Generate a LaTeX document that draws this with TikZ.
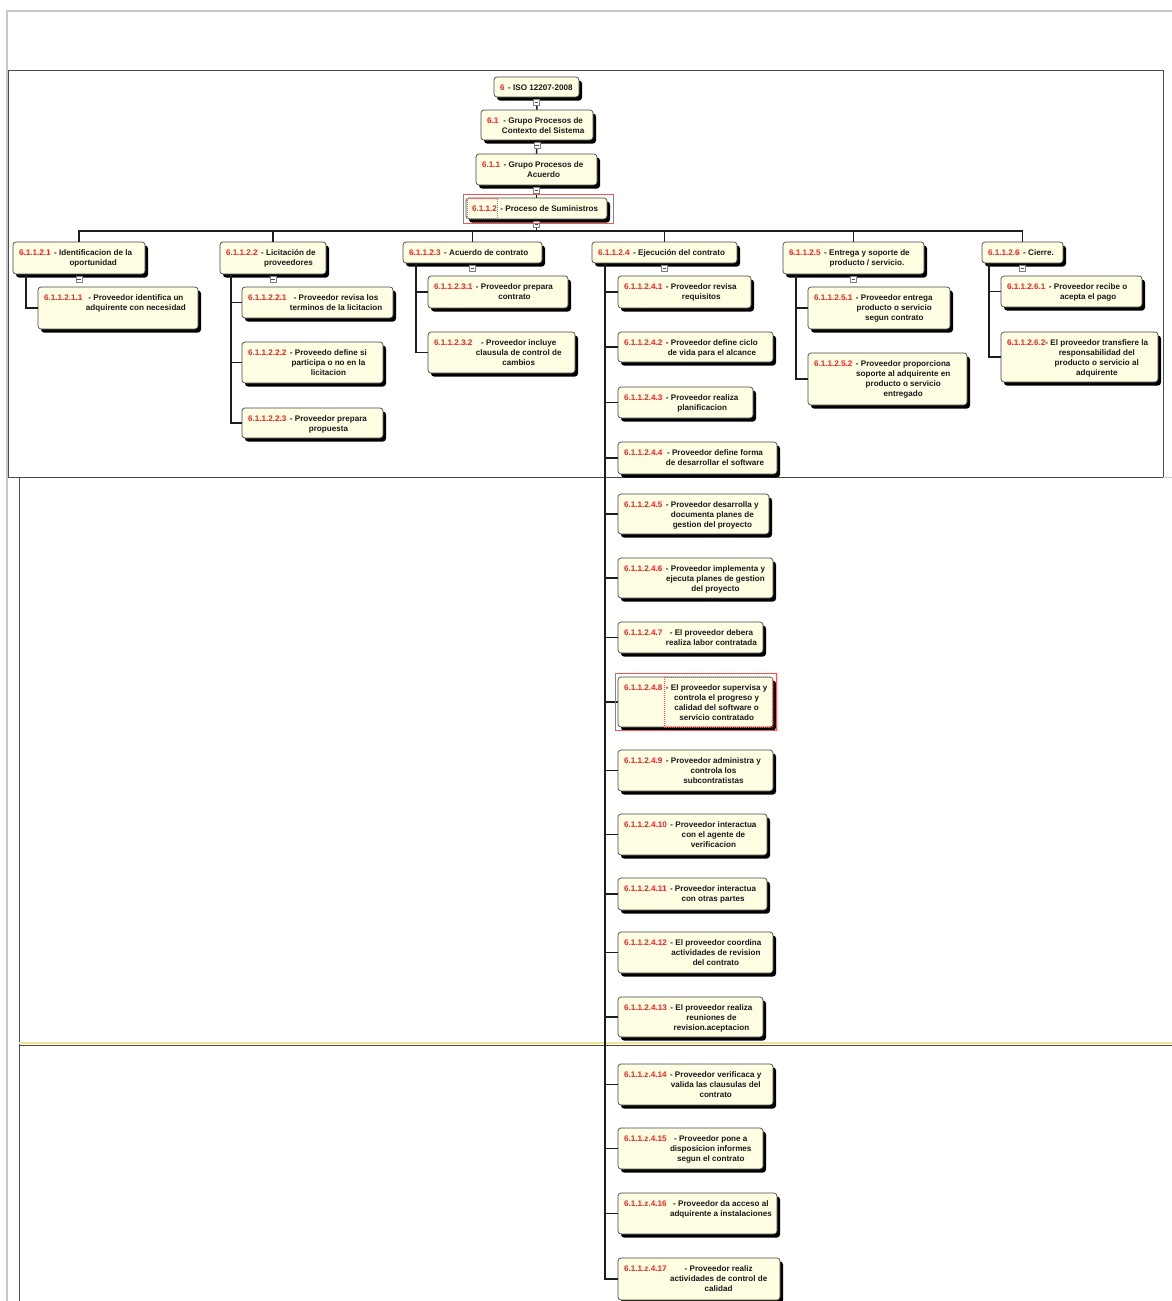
\documentclass[tikz,border=0pt]{standalone}
\usepackage{fontspec}
\setmainfont{Liberation Sans}
\usetikzlibrary{shadows}

\definecolor{boxfill}{RGB}{255,253,226}
\definecolor{boxline}{RGB}{70,70,70}
\definecolor{numred}{RGB}{255,30,30}
\definecolor{txt}{RGB}{25,25,25}
\definecolor{linkcol}{RGB}{30,30,30}
\definecolor{pagegray}{RGB}{200,200,200}
\definecolor{pageline}{RGB}{75,75,75}
\definecolor{selred}{RGB}{255,80,80}
\definecolor{breakpale}{RGB}{240,226,160}
\definecolor{breakdark}{RGB}{90,76,30}

\tikzset{
  wbsbox/.style={draw=boxline, line width=0.7pt, fill=boxfill, rounded corners=3pt,
    inner sep=0pt, outer sep=0pt, anchor=north west,
    drop shadow={shadow xshift=3pt, shadow yshift=-3.5pt, fill=black, opacity=1}},
  wbstext/.style={inner sep=0pt, anchor=north west,
    font=\fontsize{8.1}{10}\selectfont\bfseries, text=txt},
  toggle/.style={draw=gray, fill=white, line width=0.5pt, minimum size=6pt, inner sep=0pt,
    path picture={\draw[line width=0.6pt, black!70]
      ([xshift=1.3pt]path picture bounding box.west) --
      ([xshift=-1.3pt]path picture bounding box.east);}},
  link/.style={draw=linkcol, line width=1.4pt},
  selbox/.style={draw=selred, line width=0.7pt},
  seldash/.style={draw=selred, line width=0.5pt, dash pattern=on 1pt off 1pt},
}

% box: name, x1, y1, x2, y2, number, description lines
\newcommand\wbs[7]{%
  \node[wbsbox, minimum width={(#4-#2)*1pt}, minimum height={(#5-#3)*1pt}] (#1) at (#2,#3) {};
  \node[wbstext] (#1-t) at ([xshift=6pt,yshift=-6pt]#1.north west)
    {\textcolor{numred}{#6}\hspace{3.5pt}\begin{tabular}[t]{@{}c@{}}#7\end{tabular}};
}

\begin{document}
\begin{tikzpicture}[x=1pt,y=-1pt]
\useasboundingbox (0,0) rectangle (1172,1301);

% page outlines of the printed sheets
\draw[pagegray, line width=2pt] (7,1301) -- (7,11) -- (1172,11);
\draw[pageline, line width=1pt] (8,70) rectangle (1163,477);
\draw[pagegray, line width=1pt] (1163,477) -- (1172,477);
\draw[pageline, line width=1pt] (19,477) -- (19,1301);
\draw[breakpale, line width=2pt] (19,1043) -- (1172,1043);
\draw[breakdark, line width=1.3pt] (19,1045.3) -- (1172,1045.3);

% top chain
\wbs{b0}{494}{77}{579}{97}{6}{- ISO 12207-2008}
\wbs{b1}{481}{110}{593}{140}{6.1}{- Grupo Procesos de\\Contexto del Sistema}
\wbs{b2}{476}{154}{597}{185}{6.1.1}{- Grupo Procesos de\\Acuerdo}
\wbs{b3}{466}{198}{607}{219}{6.1.1.2}{- Proceso de Suministros}

% processes
\wbs{c1}{13}{242}{145}{274}{6.1.1.2.1}{- Identificacion de la\\oportunidad}
\wbs{c2}{220}{242}{326}{274}{6.1.1.2.2}{- Licitación de\\proveedores}
\wbs{c3}{403}{242}{542}{263}{6.1.1.2.3}{- Acuerdo de contrato}
\wbs{c4}{592}{242}{737}{263}{6.1.1.2.4}{- Ejecución del contrato}
\wbs{c5}{783}{242}{924}{274}{6.1.1.2.5}{- Entrega y soporte de\\producto / servicio.}
\wbs{c6}{982}{242}{1063}{263}{6.1.1.2.6}{- Cierre.}

% activities
\wbs{c11}{38}{287}{198}{329}{6.1.1.2.1.1}{- Proveedor identifica un\\adquirente con necesidad}

\wbs{c21}{242}{287}{393}{318}{6.1.1.2.2.1}{- Proveedor revisa los\\terminos de la licitacion}
\wbs{c22}{242}{342}{383}{383}{6.1.1.2.2.2}{- Proveedo define si\\participa o no en la\\licitacion}
\wbs{c23}{242}{408}{383}{438}{6.1.1.2.2.3}{- Proveedor prepara\\propuesta}

\wbs{c31}{428}{276}{568}{308}{6.1.1.2.3.1}{- Proveedor prepara\\contrato}
\wbs{c32}{428}{332}{575}{373}{6.1.1.2.3.2}{- Proveedor incluye\\clausula de control de\\cambios}

\wbs{c41}{618}{276}{751}{308}{6.1.1.2.4.1}{- Proveedor revisa\\requisitos}
\wbs{c42}{618}{332}{773}{362}{6.1.1.2.4.2}{- Proveedor define ciclo\\de vida para el alcance}
\wbs{c43}{618}{387}{753}{418}{6.1.1.2.4.3}{- Proveedor realiza\\planificacion}
\wbs{c44}{618}{442}{777}{474}{6.1.1.2.4.4}{- Proveedor define forma\\de desarrollar el software}
\wbs{c45}{618}{494}{769}{534}{6.1.1.2.4.5}{- Proveedor desarrolla y\\documenta planes de\\gestion del proyecto}
\wbs{c46}{618}{558}{773}{598}{6.1.1.2.4.6}{- Proveedor implementa y\\ejecuta planes de gestion\\del proyecto}
\wbs{c47}{618}{622}{763}{653}{6.1.1.2.4.7}{- El proveedor debera\\realiza labor contratada}
\wbs{c48}{618}{677}{773}{727}{6.1.1.2.4.8}{- El proveedor supervisa y\\controla el progreso y\\calidad del software o\\servicio contratado}
\wbs{c49}{618}{750}{773}{791}{6.1.1.2.4.9}{- Proveedor administra y\\controla los\\subcontratistas}
\wbs{c410}{618}{814}{767}{855}{6.1.1.2.4.10}{- Proveedor interactua\\con el agente de\\verificacion}
\wbs{c411}{618}{878}{767}{910}{6.1.1.2.4.11}{- Proveedor interactua\\con otras partes}
\wbs{c412}{618}{932}{773}{973}{6.1.1.2.4.12}{- El proveedor coordina\\actividades de revision\\del contrato}
\wbs{c413}{618}{997}{763}{1037}{6.1.1.2.4.13}{- El proveedor realiza\\reuniones de\\revision.aceptacion}
\wbs{c414}{618}{1064}{773}{1105}{6.1.1.z.4.14}{- Proveedor verificaca y\\valida las clausulas del\\contrato}
\wbs{c415}{618}{1128}{763}{1169}{6.1.1.z.4.15}{- Proveedor pone a\\disposicion informes\\segun el contrato}
\wbs{c416}{618}{1193}{777}{1234}{6.1.1.z.4.16}{- Proveedor da acceso al\\adquirente a instalaciones}
\wbs{c417}{618}{1258}{780}{1300}{6.1.1.z.4.17}{- Proveedor realiz\\actividades de control de\\calidad}

\wbs{c51}{808}{287}{950}{329}{6.1.1.2.5.1}{- Proveedor entrega\\producto o servicio\\segun contrato}
\wbs{c52}{808}{353}{967}{405}{6.1.1.2.5.2}{- Proveedor proporciona\\soporte al adquirente en\\producto o servicio\\entregado}

\wbs{c61}{1001}{276}{1142}{307}{6.1.1.2.6.1}{- Proveedor recibe o\\acepta el pago}
\wbs{c62}{1001}{332}{1158}{382}{6.1.1.2.6.2\hspace{-3.5pt}}{- El proveedor transfiere la\\responsabilidad del\\producto o servicio al\\adquirente}

% connectors of the top chain
\draw[link] (b0.south) -- (b1.north);
\draw[link] (b1.south) -- (b2.north);
\draw[link] (b2.south) -- (b3.north);

% bus to the processes
\coordinate (busy) at (0,231);
\coordinate (bus) at (b3.south |- busy);
\draw[link] (b3.south) -- (bus);
\foreach \c in {c1,c2,c3,c4,c5,c6}
  \draw[link] (bus) -| (\c.north);

% spines from each process to its activities
\coordinate (c1-sp) at ([xshift=13pt]c1.south west);
\coordinate (c2-sp) at ([xshift=11pt]c2.south west);
\coordinate (c3-sp) at ([xshift=13pt]c3.south west);
\coordinate (c4-sp) at ([xshift=13pt]c4.south west);
\coordinate (c5-sp) at ([xshift=13pt]c5.south west);
\coordinate (c6-sp) at ([xshift=7pt]c6.south west);

\draw[link] (c1-sp) |- (c11.west);
\foreach \k in {c21,c22,c23} \draw[link] (c2-sp) |- (\k.west);
\foreach \k in {c31,c32} \draw[link] (c3-sp) |- (\k.west);
\foreach \k in {c41,c42,c43,c44,c45,c46,c47,c48,c49,c410,c411,c412,c413,c414,c415,c416,c417}
  \draw[link] (c4-sp) |- (\k.west);
\foreach \k in {c51,c52} \draw[link] (c5-sp) |- (\k.west);
\foreach \k in {c61,c62} \draw[link] (c6-sp) |- (\k.west);

% collapse toggles below expanded boxes
\foreach \p in {b0,b1,b2,b3,c1,c2,c3,c4,c5,c6}
  \node[toggle] (\p-tg) at ([yshift=-5.5pt]\p.south) {};

% selection marks
\draw[selbox] (463,194) rectangle (613,223);
\draw[seldash] (467,198) rectangle (497,218);
\draw[selbox] (615,673) rectangle (776,730);
\draw[seldash] (664,677) rectangle (772,727);
\end{tikzpicture}
\end{document}
